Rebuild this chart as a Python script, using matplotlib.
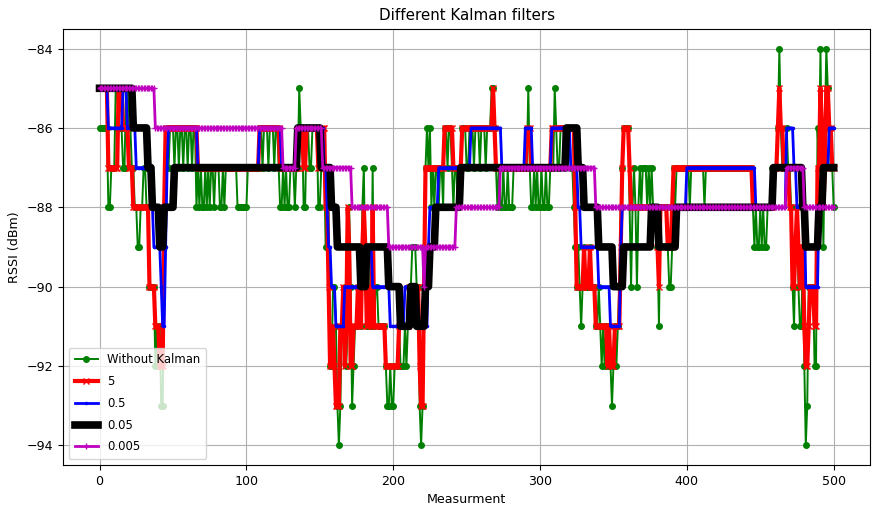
import numpy as np
import matplotlib
matplotlib.use("Agg")
import matplotlib.pyplot as plt

# raw RSSI readings, one per measurement
raw_rssi = [
    -86, -86, -86, -86, -86, -86, -88, -88, -87, -87,
    -87, -85, -85, -86, -86, -86, -87, -87, -85, -85,
    -86, -86, -87, -87, -88, -88, -89, -89, -88, -88,
    -87, -87, -88, -88, -90, -90, -90, -90, -92, -91,
    -92, -91, -93, -93, -89, -87, -86, -87, -86, -86,
    -86, -87, -86, -86, -87, -86, -86, -87, -86, -86,
    -87, -86, -86, -87, -86, -86, -88, -87, -88, -87,
    -88, -88, -87, -88, -87, -88, -87, -87, -88, -87,
    -87, -87, -88, -88, -87, -88, -87, -87, -87, -87,
    -87, -87, -87, -87, -88, -88, -88, -88, -88, -88,
    -88, -87, -87, -87, -87, -87, -87, -87, -87, -86,
    -86, -87, -86, -86, -86, -87, -86, -86, -86, -87,
    -86, -86, -87, -88, -88, -87, -88, -87, -88, -88,
    -87, -87, -87, -88, -87, -87, -85, -86, -86, -88,
    -88, -86, -86, -87, -87, -86, -86, -86, -86, -88,
    -88, -87, -87, -87, -89, -88, -88, -92, -92, -90,
    -90, -91, -93, -94, -93, -91, -91, -90, -92, -91,
    -88, -90, -93, -92, -91, -91, -90, -90, -91, -88,
    -87, -90, -91, -89, -91, -91, -87, -91, -90, -90,
    -91, -91, -91, -91, -91, -92, -93, -93, -92, -93,
    -93, -92, -92, -92, -91, -92, -92, -92, -91, -92,
    -91, -90, -90, -89, -89, -89, -90, -90, -93, -94,
    -93, -89, -87, -86, -87, -86, -88, -87, -88, -87,
    -87, -88, -87, -87, -88, -86, -86, -87, -86, -86,
    -87, -88, -87, -87, -88, -87, -87, -86, -86, -86,
    -87, -87, -86, -86, -86, -87, -86, -86, -86, -87,
    -86, -86, -86, -87, -86, -86, -86, -85, -85, -86,
    -87, -88, -87, -88, -88, -87, -88, -88, -87, -88,
    -88, -88, -87, -87, -87, -87, -87, -87, -87, -87,
    -87, -87, -85, -87, -88, -88, -87, -88, -87, -88,
    -88, -87, -88, -88, -87, -88, -88, -87, -87, -87,
    -85, -86, -87, -87, -86, -86, -86, -87, -86, -86,
    -86, -87, -87, -88, -89, -90, -89, -90, -91, -90,
    -89, -90, -90, -90, -89, -90, -90, -90, -91, -91,
    -90, -91, -92, -91, -92, -91, -92, -91, -92, -93,
    -92, -91, -92, -91, -90, -88, -87, -86, -86, -86,
    -86, -88, -90, -88, -87, -88, -90, -88, -87, -88,
    -87, -87, -87, -88, -87, -88, -87, -88, -88, -88,
    -89, -91, -88, -88, -88, -88, -88, -89, -90, -90,
    -89, -87, -88, -87, -87, -87, -87, -87, -87, -87,
    -87, -87, -88, -87, -87, -87, -87, -87, -87, -87,
    -87, -87, -88, -87, -87, -87, -87, -87, -87, -87,
    -87, -87, -87, -87, -87, -87, -87, -87, -87, -87,
    -87, -87, -87, -87, -87, -87, -87, -87, -87, -87,
    -87, -87, -87, -87, -87, -88, -89, -88, -89, -89,
    -88, -89, -88, -89, -89, -88, -88, -88, -87, -87,
    -87, -87, -86, -84, -86, -87, -87, -87, -86, -87,
    -87, -88, -90, -91, -89, -88, -90, -91, -91, -89,
    -92, -94, -93, -90, -90, -90, -90, -92, -92, -86,
    -87, -84, -87, -89, -86, -84, -85, -86, -87, -87,
    -88,
]

# filter with Q = 5
kalman_5 = [
    -85, -85, -85, -85, -85, -85, -87, -87, -87, -87,
    -87, -87, -87, -85, -85, -85, -86, -86, -86, -86,
    -87, -87, -87, -88, -88, -88, -88, -88, -88, -88,
    -88, -88, -88, -88, -90, -90, -90, -90, -91, -91,
    -91, -92, -92, -92, -88, -86, -86, -86, -86, -86,
    -86, -86, -86, -86, -86, -86, -86, -86, -86, -86,
    -86, -86, -86, -86, -86, -86, -86, -87, -87, -87,
    -87, -87, -87, -87, -87, -87, -87, -87, -87, -87,
    -87, -87, -87, -87, -87, -87, -87, -87, -87, -87,
    -87, -87, -87, -87, -87, -87, -87, -87, -87, -87,
    -87, -87, -87, -87, -87, -87, -87, -87, -87, -86,
    -86, -86, -86, -86, -86, -86, -86, -86, -86, -86,
    -86, -86, -86, -87, -87, -87, -87, -87, -87, -87,
    -87, -87, -87, -87, -87, -87, -86, -86, -86, -87,
    -87, -86, -86, -86, -86, -86, -86, -86, -86, -87,
    -87, -86, -86, -86, -88, -88, -90, -92, -92, -91,
    -92, -93, -93, -93, -91, -91, -90, -92, -91, -88,
    -89, -92, -92, -91, -91, -91, -90, -91, -91, -89,
    -88, -89, -91, -91, -90, -91, -88, -91, -91, -91,
    -91, -91, -91, -91, -91, -92, -92, -92, -92, -92,
    -92, -92, -92, -92, -91, -91, -91, -91, -91, -91,
    -91, -90, -90, -90, -90, -90, -90, -90, -92, -93,
    -93, -90, -87, -87, -87, -87, -87, -87, -87, -87,
    -87, -87, -87, -87, -87, -86, -86, -86, -86, -86,
    -86, -87, -87, -87, -87, -87, -87, -86, -86, -86,
    -86, -86, -86, -86, -86, -86, -86, -86, -86, -86,
    -86, -86, -86, -86, -86, -86, -86, -86, -85, -86,
    -87, -87, -87, -87, -87, -87, -87, -87, -87, -87,
    -87, -87, -87, -87, -87, -87, -87, -87, -87, -87,
    -87, -86, -86, -86, -87, -87, -87, -87, -87, -87,
    -87, -87, -87, -87, -87, -87, -87, -87, -86, -86,
    -86, -86, -86, -86, -86, -86, -86, -86, -86, -86,
    -86, -86, -86, -86, -88, -90, -90, -90, -90, -90,
    -89, -90, -90, -90, -89, -90, -90, -90, -91, -91,
    -91, -91, -91, -91, -91, -91, -92, -91, -92, -92,
    -92, -91, -91, -91, -91, -89, -87, -86, -86, -86,
    -86, -87, -88, -88, -88, -88, -88, -88, -88, -88,
    -88, -88, -88, -88, -88, -88, -88, -88, -88, -88,
    -89, -90, -88, -88, -88, -88, -88, -89, -89, -89,
    -88, -87, -87, -87, -87, -87, -87, -87, -87, -87,
    -87, -87, -87, -87, -87, -87, -87, -87, -87, -87,
    -87, -87, -87, -87, -87, -87, -87, -87, -87, -87,
    -87, -87, -87, -87, -87, -87, -87, -87, -87, -87,
    -87, -87, -87, -87, -87, -87, -87, -87, -87, -87,
    -87, -87, -87, -87, -87, -88, -88, -88, -88, -88,
    -88, -88, -88, -88, -88, -88, -88, -88, -88, -87,
    -87, -87, -86, -85, -86, -86, -87, -87, -87, -87,
    -88, -88, -90, -90, -89, -88, -89, -90, -90, -89,
    -91, -92, -92, -91, -90, -90, -90, -91, -91, -87,
    -87, -85, -86, -88, -87, -85, -85, -86, -86, -87,
    -87,
]

# smoother filters as (start index, level) steps
kalman_05_steps = [
    (0, -85), (6, -86), (16, -85), (19, -86), (25, -87), (35, -88),
    (37, -89), (42, -90), (43, -91), (45, -89), (46, -87), (47, -86),
    (67, -87), (109, -86), (124, -87), (136, -86), (153, -87), (155, -88),
    (156, -89), (158, -90), (161, -91), (167, -90), (181, -89), (186, -90),
    (198, -91), (208, -90), (216, -91), (224, -89), (225, -88), (231, -87),
    (253, -86), (274, -87), (290, -86), (295, -87), (308, -86), (321, -87),
    (326, -88), (328, -89), (340, -90), (348, -91), (355, -89), (356, -88),
    (400, -87), (447, -88), (468, -86), (473, -87), (475, -88), (481, -90),
    (490, -88), (493, -87), (497, -86),
]
kalman_005_steps = [
    (0, -85), (23, -86), (33, -87), (36, -88), (41, -89), (44, -88),
    (51, -87), (135, -86), (151, -87), (158, -88), (162, -89), (178, -90),
    (182, -89), (197, -90), (205, -91), (212, -90), (216, -91), (222, -90),
    (225, -89), (229, -88), (246, -87), (318, -86), (326, -87), (330, -88),
    (340, -89), (350, -90), (357, -89), (376, -88), (381, -89), (393, -88),
    (459, -87), (479, -88), (481, -89), (490, -88), (493, -87),
]
kalman_0005_steps = [
    (0, -85), (38, -86), (125, -87), (134, -86), (152, -87), (172, -88),
    (197, -89), (221, -90), (222, -89), (243, -88), (273, -87), (338, -88),
    (468, -87), (480, -88),
]

labels = ["Without Kalman", "5", "0.5", "0.05", "0.005"]


def expand(steps, n):
    out = np.empty(n)
    for k, (start, level) in enumerate(steps):
        stop = steps[k + 1][0] if k + 1 < len(steps) else n
        out[start:stop] = level
    return out


n = len(raw_rssi)
x = np.arange(n)
kalman_05 = expand(kalman_05_steps, n)
kalman_005 = expand(kalman_005_steps, n)
kalman_0005 = expand(kalman_0005_steps, n)

plt.rcParams["font.size"] = 9.1

fig, ax = plt.subplots(figsize=(8.73, 5.05), dpi=100)
fig.subplots_adjust(left=0.072, right=0.997, top=0.943, bottom=0.079)

ax.plot(x, raw_rssi, "go-", markersize=4, linewidth=1.4, label=labels[0])
ax.plot(np.arange(len(kalman_5)), kalman_5, "rx-", markersize=4, linewidth=3, label=labels[1])
ax.plot(x, kalman_05, "b.-", markersize=3, linewidth=2, label=labels[2])
ax.plot(x, kalman_005, "k-", linewidth=5.5, label=labels[3])
ax.plot(x, kalman_0005, "m+-", markersize=4, linewidth=2, label=labels[4])

ax.set_title("Different Kalman filters")
ax.set_xlabel("Measurment")
ax.set_ylabel("RSSI (dBm)")
ax.grid(True)
ax.legend(loc="lower left", fontsize=8.4, labelspacing=0.75, borderpad=0.5)

fig.savefig("out.png")
